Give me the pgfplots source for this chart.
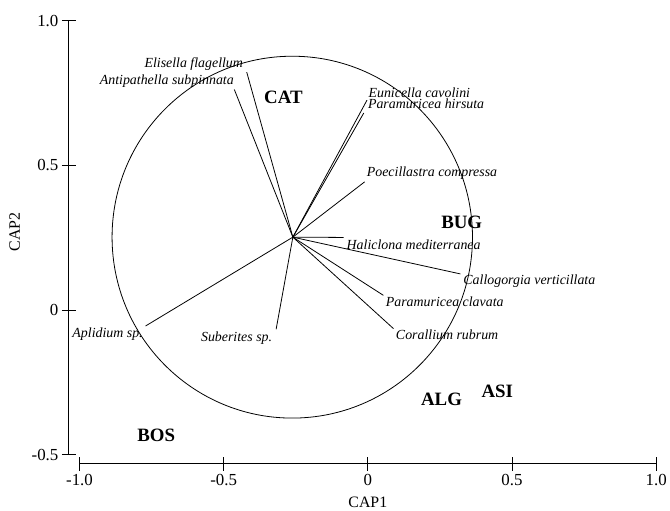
\documentclass[border=0pt]{standalone}
\usepackage{pgfplots}
\pgfplotsset{compat=1.18}
\usepackage{fontspec}
\setmainfont{Liberation Serif}
\begin{document}
\begin{tikzpicture}
\begin{axis}[
  scale only axis, width=579bp, height=436bp,
  xmin=-1, xmax=1, ymin=-0.5, ymax=1,
  axis lines=left, axis line style={-, line width=0.8pt},
  axis x line shift=8.8bp, axis y line shift=10.7bp,
  xtick={-1,-0.5,0,0.5,1}, xticklabels={-1.0,-0.5,0,0.5,1.0},
  ytick={-0.5,0,0.5,1}, yticklabels={-0.5,0,0.5,1.0},
  tick align=center, major tick length=14bp,
  tick style={black, line width=0.8pt},
  ticklabel style={font=\fontsize{17}{19}\selectfont},
  xlabel={CAP1}, ylabel={CAP2},
  every axis x label/.style={at={(axis description cs:0.5,-0.1085)}, anchor=center, font=\fontsize{16}{18}\selectfont},
  every axis y label/.style={at={(axis description cs:-0.1123,0.513)}, anchor=center, rotate=90, font=\fontsize{16}{18}\selectfont},
  clip=false,
]
% invisible frame giving the picture its size
\path (axis cs:-1.2757,-0.690) rectangle (axis cs:1.0387,1.0712);
% correlation circle
\draw[line width=0.8pt] (axis cs:-0.262,0.252) ellipse [x radius=0.625, y radius=0.625];
% vectors
\pgfplotsset{vec/.style={black, line width=0.8pt, no marks}}
\addplot[vec] coordinates {(-0.260,0.252) (-0.420,0.822)};
\addplot[vec] coordinates {(-0.260,0.252) (-0.463,0.762)};
\addplot[vec] coordinates {(-0.260,0.252) (-0.003,0.725)};
\addplot[vec] coordinates {(-0.260,0.252) (-0.014,0.681)};
\addplot[vec] coordinates {(-0.260,0.252) (-0.011,0.443)};
\addplot[vec] coordinates {(-0.260,0.252) (-0.084,0.251)};
\addplot[vec] coordinates {(-0.260,0.252) (0.321,0.125)};
\addplot[vec] coordinates {(-0.260,0.252) (0.054,0.051)};
\addplot[vec] coordinates {(-0.260,0.252) (0.089,-0.064)};
\addplot[vec] coordinates {(-0.260,0.252) (-0.771,-0.055)};
\addplot[vec] coordinates {(-0.260,0.252) (-0.318,-0.066)};
% species labels
\tikzset{sp/.style={anchor=base west, inner sep=0pt, font=\fontsize{14}{16}\selectfont\itshape}}
\node[sp] at (axis cs:-0.775,0.837) {Elisella flagellum};
\node[sp] at (axis cs:-0.930,0.779) {Antipathella subpinnata};
\node[sp] at (axis cs:0.002,0.735) {Eunicella cavolini};
\node[sp] at (axis cs:0.000,0.695) {Paramuricea hirsuta};
\node[sp] at (axis cs:-0.004,0.463) {Poecillastra compressa};
\node[sp] at (axis cs:-0.074,0.211) {Haliclona mediterranea};
\node[sp] at (axis cs:0.331,0.088) {Callogorgia verticillata};
\node[sp] at (axis cs:0.062,0.011) {Paramuricea clavata};
\node[sp] at (axis cs:0.097,-0.101) {Corallium rubrum};
\node[sp] at (axis cs:-1.025,-0.096) {Aplidium sp.};
\node[sp] at (axis cs:-0.579,-0.108) {Suberites sp.};
% site labels
\tikzset{site/.style={anchor=base west, inner sep=0pt, font=\fontsize{19}{21}\selectfont\bfseries}}
\node[site] at (axis cs:-0.360,0.714) {CAT};
\node[site] at (axis cs:0.254,0.282) {BUG};
\node[site] at (axis cs:0.184,-0.328) {ALG};
\node[site] at (axis cs:0.394,-0.302) {ASI};
\node[site] at (axis cs:-0.800,-0.454) {BOS};
\end{axis}
\end{tikzpicture}
\end{document}
